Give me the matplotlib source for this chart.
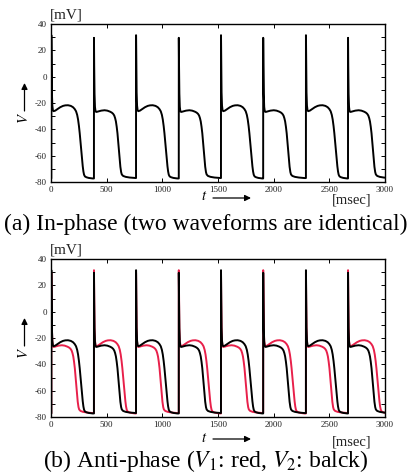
import matplotlib
matplotlib.use("Agg")
import matplotlib.pyplot as plt
from matplotlib.ticker import MultipleLocator
from matplotlib.patches import FancyArrowPatch
import numpy as np

plt.rcParams['font.family'] = ['Liberation Serif', 'DejaVu Serif']
plt.rcParams['mathtext.fontset'] = 'stix'
plt.rcParams['axes.unicode_minus'] = False

# ---- data ----
spike_times = [3, 386, 764, 1148, 1527, 1906, 2290, 2668]   # msec

# beat with a hump (longer action potential), times relative to the spike
hump_dt = [0, 2, 5, 9, 14, 20, 35, 55, 80, 105, 125, 150, 175, 195, 210, 222,
           232, 240, 248, 255, 262, 269, 276, 282, 288, 294, 302, 315, 335, 370]
hump_v = [31.5, 10, -12, -22, -25.5, -26.2, -25.8, -24.6, -23.2, -22.2, -21.8,
          -21.7, -22.2, -23.2, -24.6, -26.3, -29, -32.5, -37.5, -43, -49.5, -56,
          -63, -68, -72, -74.5, -75.8, -76.4, -76.9, -77.3]

# beat with a flat plateau (shorter action potential)
plat_dt = [0, 2, 5, 9, 14, 22, 40, 65, 95, 120, 145, 160, 172, 182, 190, 197,
           204, 211, 218, 225, 231, 237, 244, 250, 262, 285, 320, 370]
plat_v = [29.5, 8, -13, -23, -26.4, -26.8, -26.4, -25.8, -25.5, -25.8, -26.6,
          -27.3, -28.2, -29.5, -31.5, -34, -38, -43, -50, -57, -63.5, -68.4,
          -72.5, -74.3, -75.4, -76.1, -76.6, -77]

rest_v = -77.3
in_phase_beats = ['H', 'P', 'H', 'P', 'H', 'P', 'H', 'P']   # V1 = V2
anti_v2_beats = ['H', 'P', 'H', 'P', 'H', 'P', 'H', 'P']    # black
anti_v1_beats = ['P', 'H', 'P', 'H', 'P', 'H', 'P', 'H']    # red

x_ticks = [0, 500, 1000, 1500, 2000, 2500, 3000]
y_ticks = [-80, -60, -40, -20, 0, 20, 40]


def build(beats):
    t = [0.0]
    v = [rest_v]
    for t0, kind in zip(spike_times, beats):
        dts, vs = (hump_dt, hump_v) if kind == 'H' else (plat_dt, plat_v)
        t.append(t0 - 0.3)
        v.append(v[-1])
        t.extend([t0 + d for d in dts])
        v.extend(vs)
    return np.array(t), np.array(v)


W, H = 412, 475
fig = plt.figure(figsize=(W / 100, H / 100), dpi=100)


def fx(x):
    return x / W


def fy(y):
    return 1 - y / H


def arrow(x0, y0, x1, y1):
    a = FancyArrowPatch((fx(x0), fy(y0)), (fx(x1), fy(y1)),
                        transform=fig.transFigure, arrowstyle='-|>',
                        lw=0.9, color='k', mutation_scale=9,
                        shrinkA=0, shrinkB=0)
    fig.add_artist(a)


def make_axes(top_px):
    ax = fig.add_axes([fx(51), fy(top_px + 158), fx(385) - fx(51), 158 / H])
    ax.set_xlim(0, 3000)
    ax.set_ylim(-80, 40)
    ax.set_xticks(x_ticks)
    ax.set_yticks(y_ticks)
    ax.yaxis.set_minor_locator(MultipleLocator(10))
    ax.tick_params(which='both', direction='in', top=True, right=True,
                   length=3, width=0.7, labelsize=6.5, pad=3, labelcolor='#222222')
    for s in ax.spines.values():
        s.set_linewidth(1.0)
    return ax


def decorate(top_px, xlab_off, cap_off, caption):
    # y label with arrow
    fig.text(fx(23.5), fy(top_px + 94), '$V$', rotation=90, fontsize=10.5,
             ha='center', va='center')
    arrow(24.5, top_px + 87, 24.5, top_px + 59)
    fig.text(fx(66), fy(top_px - 9), '[mV]', fontsize=11, ha='center', va='center',
             color='#222222')
    # x label with arrow
    fig.text(fx(204), fy(top_px + xlab_off - 1), '$t$', fontsize=10.5,
             ha='center', va='center')
    arrow(213, top_px + xlab_off, 251, top_px + xlab_off)
    fig.text(fx(352), fy(top_px + xlab_off + 2.5), '[msec]', fontsize=10.5,
             ha='center', va='center', color='#222222')
    fig.text(fx(206), fy(top_px + cap_off), caption, fontsize=17,
             ha='center', va='center')


ax1 = make_axes(24)
t, v = build(in_phase_beats)
ax1.plot(t, v, color='black', lw=1.4)
decorate(24, 174, 200, '(a) In-phase (two waveforms are identical)')

ax2 = make_axes(259)
t1, v1 = build(anti_v1_beats)
t2, v2 = build(anti_v2_beats)
ax2.plot(t1, v1, color='#e8204a', lw=1.4)
ax2.plot(t2, v2, color='black', lw=1.4)
decorate(259, 180, 202, '(b) Anti-phase ($V_1$: red, $V_2$: balck)')

fig.savefig('out.png', dpi=100)
